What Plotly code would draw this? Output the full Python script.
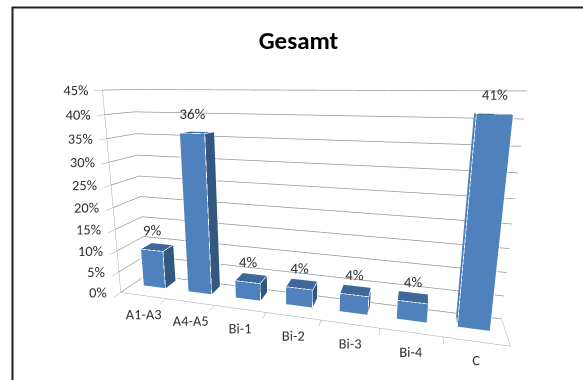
import plotly.graph_objects as go

# Category shares
categories = ["A1-A3", "A4-A5", "Bi-1", "Bi-2", "Bi-3", "Bi-4", "C"]
shares = [0.09, 0.36, 0.04, 0.04, 0.04, 0.04, 0.41]
value_labels = ["9%", "36%", "4%", "4%", "4%", "4%", "41%"]
z_ticks = [0, 0.05, 0.10, 0.15, 0.20, 0.25, 0.30, 0.35, 0.40, 0.45]
z_tick_text = ["0%", "5%", "10%", "15%", "20%", "25%", "30%", "35%", "40%", "45%"]

FRONT = "#4f81bd"
SIDE = "#33577f"
TOP = "#3d6898"
EDGE = "rgba(236,241,248,0.95)"
FONT = "Carlito, Lato, sans-serif"
TEXT = "#333333"

HALF_W = 0.25          # half bar width (category units)
Y0, Y1 = 0.455, 0.879  # bar depth span on the floor
PAD = 0.004            # outline offset so edges sit just outside the faces

xs, ys, zs, ii, jj, kk, fcol = [], [], [], [], [], [], []
lx, ly, lz = [], [], []
for n, h in enumerate(shares):
    x0, x1 = n - HALF_W, n + HALF_W
    base = len(xs)
    corners = [(x0, Y0, 0), (x1, Y0, 0), (x1, Y1, 0), (x0, Y1, 0),
               (x0, Y0, h), (x1, Y0, h), (x1, Y1, h), (x0, Y1, h)]
    for cx, cy, cz in corners:
        xs.append(cx); ys.append(cy); zs.append(cz)
    faces = [((0, 1, 5), FRONT), ((0, 5, 4), FRONT),   # front
             ((3, 2, 6), FRONT), ((3, 6, 7), FRONT),   # back
             ((0, 3, 7), FRONT), ((0, 7, 4), FRONT),   # left
             ((1, 2, 6), SIDE), ((1, 6, 5), SIDE),     # right
             ((4, 5, 6), TOP), ((4, 6, 7), TOP),       # top
             ((0, 1, 2), SIDE), ((0, 2, 3), SIDE)]     # bottom
    for (a, b, c), col in faces:
        ii.append(base + a); jj.append(base + b); kk.append(base + c)
        fcol.append(col)
    # slightly enlarged box for the light bevel outline
    ox0, ox1 = x0 - PAD * 2, x1 + PAD * 2
    oy0, oy1 = Y0 - PAD * 8, Y1 + PAD * 8
    oh = h + PAD * 0.45
    oc = [(ox0, oy0, 0), (ox1, oy0, 0), (ox1, oy1, 0), (ox0, oy1, 0),
          (ox0, oy0, oh), (ox1, oy0, oh), (ox1, oy1, oh), (ox0, oy1, oh)]
    for a, b in [(4, 5), (5, 6), (6, 7), (7, 4), (0, 4), (1, 5), (2, 6), (0, 1)]:
        for q in (a, b):
            lx.append(oc[q][0]); ly.append(oc[q][1]); lz.append(oc[q][2])
        lx.append(None); ly.append(None); lz.append(None)

bars = go.Mesh3d(
    x=xs, y=ys, z=zs, i=ii, j=jj, k=kk, facecolor=fcol, flatshading=True,
    lighting=dict(ambient=1.0, diffuse=0.0, specular=0.0, roughness=1.0, fresnel=0.0),
    hoverinfo="skip", showscale=False,
)
outlines = go.Scatter3d(
    x=lx, y=ly, z=lz, mode="lines", line=dict(color=EDGE, width=1.5),
    hoverinfo="skip", showlegend=False,
)
value_text = go.Scatter3d(
    x=list(range(len(categories))), y=[Y0] * len(categories), z=shares,
    mode="text", text=value_labels, textposition="top center",
    textfont=dict(family=FONT, size=15, color=TEXT),
    hoverinfo="skip", showlegend=False,
)
category_text = go.Scatter3d(
    x=list(range(len(categories))), y=[0.0] * len(categories), z=[0.0] * len(categories),
    mode="text", text=categories, textposition="bottom center",
    textfont=dict(family=FONT, size=14.5, color=TEXT),
    hoverinfo="skip", showlegend=False,
)
z_text = go.Scatter3d(
    x=[-0.5] * len(z_ticks), y=[0.0] * len(z_ticks), z=z_ticks,
    mode="text", text=[t + "  " for t in z_tick_text], textposition="middle left",
    textfont=dict(family=FONT, size=14.5, color=TEXT),
    hoverinfo="skip", showlegend=False,
)

fig = go.Figure([bars, outlines, value_text, category_text, z_text])

fig.update_layout(
    width=583, height=380,
    margin=dict(l=0, r=0, t=0, b=0),
    paper_bgcolor="white", showlegend=False,
    title=dict(text="<b>Gesamt</b>", x=0.512, xanchor="center", y=0.895, yanchor="middle",
               font=dict(family=FONT, size=25, color="black")),
    scene=dict(
        domain=dict(x=[0, 1], y=[0, 1]),
        xaxis=dict(range=[-0.5, 6.5], tickvals=[0.5, 1.5, 2.5, 3.5, 4.5, 5.5],
                   showticklabels=False, title=dict(text=""), showgrid=False,
                   zeroline=False, showbackground=False, showline=True,
                   linecolor="#a6a6a6", ticks="outside", ticklen=4, tickcolor="#a6a6a6",
                   showspikes=False),
        yaxis=dict(range=[0, 1], title=dict(text=""), showticklabels=False, showgrid=False,
                   zeroline=False, showbackground=False, showline=True,
                   linecolor="#a6a6a6", ticks="", showspikes=False),
        zaxis=dict(range=[0, 0.45], tickvals=z_ticks, showticklabels=False,
                   title=dict(text=""),
                   showgrid=True, gridcolor="#959595", gridwidth=1.5, zeroline=False,
                   showbackground=False, showline=True, linecolor="#a6a6a6",
                   ticks="outside", ticklen=4, tickcolor="#a6a6a6", showspikes=False),
        aspectmode="manual",
        aspectratio=dict(x=1.811, y=0.230, z=1.0),
        camera=dict(eye=dict(x=0.505, y=-1.946, z=0.527),
                    center=dict(x=-0.041, y=0, z=0.060),
                    up=dict(x=0, y=0, z=1), projection=dict(type="perspective")),
        bgcolor="rgba(0,0,0,0)",
    ),
    shapes=[dict(type="rect", xref="paper", yref="paper",
                 x0=12.5 / 583, x1=1.05, y0=-0.05, y1=1 - 7.5 / 380,
                 line=dict(color="#1f1f1f", width=2), fillcolor="rgba(0,0,0,0)",
                 layer="above")],
)

fig.write_html("out.html")
